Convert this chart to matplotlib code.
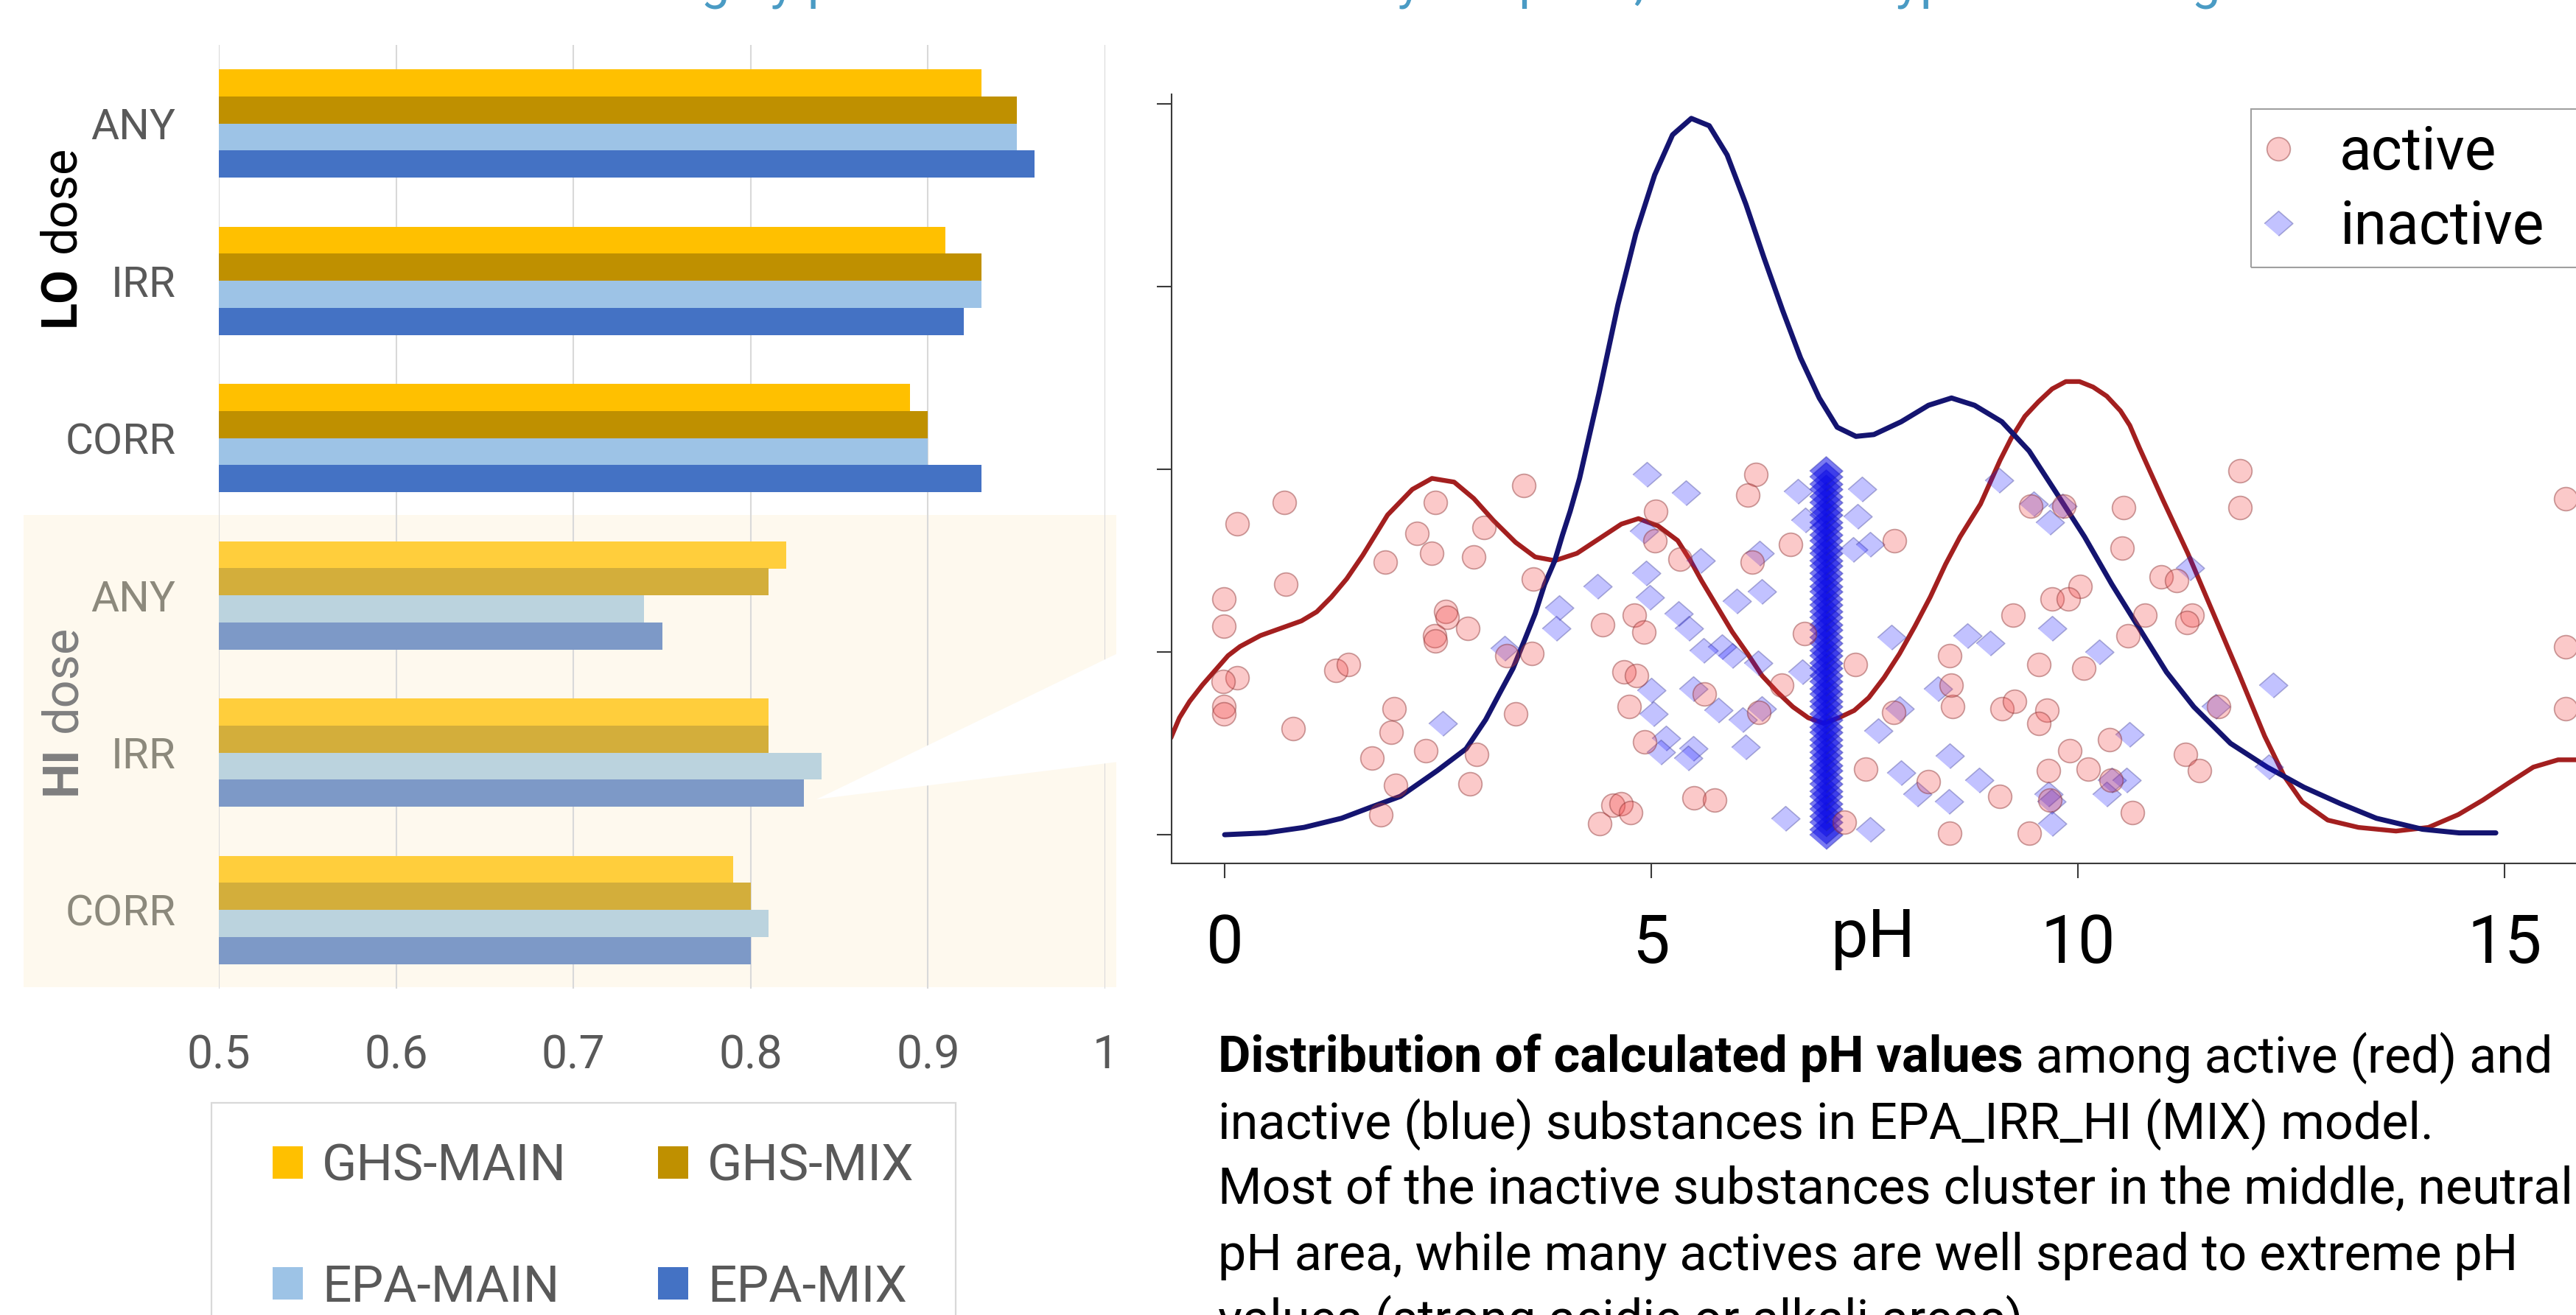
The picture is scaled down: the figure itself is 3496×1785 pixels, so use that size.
import matplotlib
matplotlib.use("Agg")
import matplotlib.pyplot as plt
from matplotlib import font_manager
from matplotlib.patches import Rectangle, Polygon

W, H, DPI = 3496, 1785, 100

available = {f.name for f in font_manager.fontManager.ttflist}
FONT = next(n for n in ["Liberation Sans Narrow", "Roboto", "DejaVu Sans"] if n in available)
plt.rcParams["font.family"] = [FONT, "DejaVu Sans"]

# ---------------- data: bar chart ----------------
categories = ["ANY", "IRR", "CORR", "ANY", "IRR", "CORR"]
dose_groups = ["LO", "LO", "LO", "HI", "HI", "HI"]
series_names = ["GHS-MAIN", "GHS-MIX", "EPA-MAIN", "EPA-MIX"]
ghs_main = [0.93, 0.91, 0.89, 0.82, 0.81, 0.79]
ghs_mix = [0.95, 0.93, 0.90, 0.81, 0.81, 0.80]
epa_main = [0.95, 0.93, 0.90, 0.74, 0.84, 0.81]
epa_mix = [0.96, 0.92, 0.93, 0.75, 0.83, 0.80]
bar_xticks = [0.5, 0.6, 0.7, 0.8, 0.9, 1.0]
bar_xticklabels = ["0.5", "0.6", "0.7", "0.8", "0.9", "1"]

# ---------------- data: pH scatter ----------------
active_ph = [0.70, 0.15, 2.47, 2.25, 2.43, 2.92, 1.88, 3.04, 3.51, 3.62, 0.72, -0.01, -0.01, 2.59, 2.61,
             2.85, 2.46, 2.47, 3.60, 3.31, 1.30, 1.45, 0.15, -0.02, -0.01, -0.01, 0.80, 1.99, 1.95, 2.36,
             1.73, 2.95, 3.41, 2.00, 2.88, 1.83,
             6.23, 6.13, 5.05, 5.04, 6.63, 6.18, 5.34, 7.85, 4.80, 4.43, 4.91, 6.80, 4.68, 4.83, 7.39,
             6.53, 5.62, 4.74, 6.26, 7.84, 8.50, 8.53, 8.52, 4.92, 7.51, 8.25, 5.50, 5.74, 4.55, 4.65,
             4.76, 4.40, 7.26, 8.50,
             11.90, 11.90, 10.54, 10.52, 9.84, 9.45, 10.98, 11.16, 10.03, 9.70, 9.89, 9.24, 10.79, 10.59,
             11.34, 11.28, 9.54, 10.07, 9.11, 9.26, 9.64, 9.54, 11.65, 10.37, 9.91, 10.12, 9.66, 10.39,
             11.26, 11.43, 9.09, 9.67, 10.64, 9.43,
             15.72, 15.72, 15.72]
active_y = [1.82, 1.70, 1.82, 1.65, 1.54, 1.52, 1.49, 1.68, 1.91, 1.40, 1.37, 1.29, 1.14, 1.22, 1.19,
            1.13, 1.09, 1.06, 0.99, 0.98, 0.90, 0.93, 0.86, 0.84, 0.70, 0.66, 0.58, 0.69, 0.56, 0.46,
            0.42, 0.44, 0.66, 0.27, 0.28, 0.11,
            1.97, 1.86, 1.77, 1.61, 1.59, 1.49, 1.51, 1.61, 1.20, 1.15, 1.11, 1.10, 0.89, 0.87, 0.93,
            0.82, 0.77, 0.70, 0.67, 0.67, 0.98, 0.70, 0.82, 0.51, 0.36, 0.29, 0.20, 0.19, 0.16, 0.17,
            0.12, 0.06, 0.07, 0.01,
            1.99, 1.79, 1.79, 1.57, 1.80, 1.80, 1.41, 1.39, 1.36, 1.29, 1.29, 1.20, 1.20, 1.09,
            1.20, 1.16, 0.93, 0.91, 0.69, 0.73, 0.68, 0.61, 0.70, 0.52, 0.46, 0.36, 0.35, 0.30,
            0.44, 0.35, 0.21, 0.19, 0.12, 0.01,
            1.84, 1.03, 0.69]

inactive_ph = [2.56, 3.28, 3.92, 3.89,
               4.95, 5.41, 6.72, 7.47, 7.42, 6.81, 4.91, 7.37, 7.57, 6.27, 5.58, 4.94, 4.37, 4.98, 6.30,
               6.00, 5.32, 5.44, 5.61, 5.83, 5.95, 6.25, 6.77, 7.82, 5.00, 5.49, 5.79, 5.03, 6.07, 6.30,
               7.91, 7.66, 5.17, 5.11, 5.49, 5.43, 6.11, 8.36, 8.50, 7.93, 8.12, 8.49, 6.57, 7.57,
               9.08, 9.67, 9.48, 9.82, 11.31, 9.70, 8.71, 8.97, 10.25, 12.29, 10.61, 11.62, 8.84, 9.66,
               9.69, 9.70, 10.34, 10.57, 10.40, 12.24]
inactive_y = [0.61, 1.02, 1.24, 1.13,
              1.97, 1.87, 1.88, 1.89, 1.74, 1.72, 1.66, 1.56, 1.59, 1.54, 1.50, 1.43, 1.36, 1.30, 1.33,
              1.28, 1.21, 1.13, 1.01, 1.03, 0.98, 0.94, 0.89, 1.08, 0.79, 0.80, 0.68, 0.66, 0.63, 0.69,
              0.69, 0.57, 0.53, 0.45, 0.47, 0.42, 0.48, 0.80, 0.43, 0.34, 0.22, 0.18, 0.09, 0.03,
              1.94, 1.71, 1.81, 1.80, 1.46, 1.13, 1.09, 1.05, 1.00, 0.82, 0.55, 0.70, 0.30, 0.22,
              0.18, 0.06, 0.22, 0.30, 0.30, 0.37]

# dense cluster of inactive substances at neutral pH
neutral_y = [0.00, 0.03, 0.07, 0.10, 0.14, 0.17, 0.21, 0.24, 0.28, 0.31, 0.35, 0.38, 0.42, 0.45, 0.49,
             0.52, 0.56, 0.59, 0.63, 0.66, 0.70, 0.73, 0.77, 0.80, 0.84, 0.87, 0.91, 0.94, 0.98, 1.01,
             1.05, 1.08, 1.12, 1.15, 1.19, 1.22, 1.26, 1.29, 1.33, 1.36, 1.40, 1.43, 1.47, 1.50, 1.54,
             1.57, 1.61, 1.64, 1.68, 1.71, 1.75, 1.78, 1.82, 1.85, 1.89, 1.92, 1.96, 1.99]
neutral_ph = [7.05] * len(neutral_y)

# density curves
dens_active_ph = [-0.63, -0.53, -0.41, -0.26, -0.11, 0.04, 0.18, 0.42, 0.66, 0.90, 1.08, 1.25, 1.43,
                  1.62, 1.91, 2.20, 2.43, 2.69, 2.92, 3.15, 3.41, 3.64, 3.87, 4.13, 4.39, 4.65, 4.85,
                  5.08, 5.31, 5.46, 5.59, 5.77, 5.95, 6.13, 6.30, 6.48, 6.66, 6.84, 7.02, 7.20, 7.38,
                  7.55, 7.73, 7.91, 8.09, 8.27, 8.45, 8.62, 8.86, 9.09, 9.22, 9.38, 9.54, 9.70, 9.86,
                  10.02, 10.18, 10.34, 10.50, 10.61, 10.72, 11.00, 11.29, 11.59, 11.89, 12.19, 12.42,
                  12.63, 12.93, 13.29, 13.73, 14.11, 14.46, 14.75, 15.04, 15.34, 15.63, 15.86]
dens_active = [0.53, 0.64, 0.73, 0.82, 0.90, 0.98, 1.03, 1.09, 1.13, 1.17, 1.22, 1.30, 1.40,
               1.53, 1.75, 1.89, 1.95, 1.93, 1.84, 1.72, 1.60, 1.52, 1.50, 1.54, 1.62, 1.70, 1.73,
               1.69, 1.61, 1.50, 1.39, 1.25, 1.11, 0.99, 0.87, 0.78, 0.70, 0.64, 0.61, 0.64, 0.68,
               0.75, 0.86, 0.99, 1.14, 1.30, 1.48, 1.63, 1.81, 2.05, 2.17, 2.29, 2.37, 2.44, 2.48,
               2.48, 2.45, 2.40, 2.32, 2.24, 2.12, 1.83, 1.54, 1.21, 0.88, 0.54, 0.32,
               0.18, 0.08, 0.04, 0.02, 0.04, 0.11, 0.19, 0.28, 0.37, 0.41, 0.41]
dens_inactive_ph = [0.00, 0.48, 0.93, 1.37, 1.71, 2.06, 2.49, 2.83, 3.06, 3.23, 3.38, 3.52, 3.64, 3.75,
                    3.87, 3.96, 4.05, 4.16, 4.39, 4.61, 4.82, 5.04, 5.25, 5.47, 5.68, 5.89, 6.11, 6.32,
                    6.54, 6.75, 6.97, 7.18, 7.40, 7.61, 7.93, 8.25, 8.52, 8.79, 9.11, 9.43, 9.75, 10.08,
                    10.40, 10.72, 11.04, 11.36, 11.79, 12.22, 12.65, 13.08, 13.50, 14.04, 14.47, 14.90]
dens_inactive = [0.00, 0.01, 0.04, 0.09, 0.15, 0.21, 0.35, 0.47, 0.63, 0.78, 0.91, 1.07, 1.21, 1.37,
                 1.50, 1.64, 1.77, 1.95, 2.42, 2.90, 3.29, 3.61, 3.83, 3.92, 3.88, 3.72, 3.45, 3.16,
                 2.87, 2.61, 2.39, 2.23, 2.18, 2.19, 2.26, 2.35, 2.39, 2.35, 2.26, 2.10, 1.87, 1.63,
                 1.37, 1.13, 0.89, 0.70, 0.50, 0.37, 0.26, 0.17, 0.09, 0.03, 0.01, 0.01]
ph_ticks = [0, 5, 10, 15]
ph_ticklabels = ["0", "5", "10", "15"]

caption_bold = "Distribution of calculated pH values"
caption_rest = " among active (red) and"
caption_lines = ["inactive (blue) substances in EPA_IRR_HI (MIX) model.",
                 "Most of the inactive substances cluster in the middle, neutral",
                 "pH area, while many actives are well spread to extreme pH",
                 "values (strong acidic or alkali areas)."]
top_title = "Highly predictive models for every endpoint, dose and type of training set"

# ---------------- styling ----------------
lo_colors = ["#FFC000", "#BF9000", "#9DC3E6", "#4472C4"]
hi_colors = ["#FFCE3C", "#D3AE3B", "#BBD3DE", "#7D99C7"]
LO_TXT = "#595959"
HI_TXT = "#8C897C"


def fx(x):
    return x / W


def fy(y):
    return 1 - y / H


def pt2px(p):
    return p * DPI / 72.0


fig = plt.figure(figsize=(W / DPI, H / DPI), dpi=DPI)
fig.patch.set_facecolor("white")
renderer = fig.canvas.get_renderer()


def measure(s, size, weight="normal"):
    t = fig.text(0, 0, s, fontsize=size, fontweight=weight)
    bb = t.get_window_extent(renderer)
    t.remove()
    return bb.width, bb.height


# HI dose background
fig.patches.append(Rectangle((fx(32), fy(1340)), (1515 - 32) / W, (1340 - 699) / H,
                             transform=fig.transFigure, facecolor="#FEF9EE",
                             edgecolor="none", zorder=-1))

# ---------------- bar chart ----------------
axb = fig.add_axes([fx(297), fy(1342), (1500 - 297) / W, (1342 - 61) / H])
axb.set_facecolor("none")
bh = 36.75 / 213.5
offsets = [-1.5, -0.5, 0.5, 1.5]
series_values = [ghs_main, ghs_mix, epa_main, epa_mix]
containers = []
for j, vals in enumerate(series_values):
    cols = [lo_colors[j] if d == "LO" else hi_colors[j] for d in dose_groups]
    pos = [i + offsets[j] * bh for i in range(len(vals))]
    containers.append(axb.barh(pos, vals, height=bh, color=cols, zorder=2))
axb.set_xlim(0.5, 1.0)
axb.set_ylim(len(categories) - 0.5, -0.5)
axb.set_xticks(bar_xticks)
axb.set_xticklabels(bar_xticklabels)
axb.set_yticks(range(len(categories)))
axb.set_yticklabels(categories)
for lbl, d in zip(axb.get_yticklabels(), dose_groups):
    lbl.set_color(LO_TXT if d == "LO" else HI_TXT)
axb.grid(axis="x", color="#D9D9D9", lw=1.5, zorder=0)
axb.set_axisbelow(True)
for s in axb.spines.values():
    s.set_visible(False)
axb.tick_params(axis="x", length=0, pad=44, labelsize=45, labelcolor=LO_TXT)
axb.tick_params(axis="y", length=0, pad=42, labelsize=42)

# callout wedge
fig.patches.append(Polygon([(fx(1108), fy(1085)), (fx(1535), fy(878)), (fx(1535), fy(1032))],
                           closed=True, transform=fig.transFigure, facecolor="white",
                           edgecolor="none", zorder=3))


# dose labels (bold level + regular "dose"), rotated
def dose_label(xc, y_bottom, level, color):
    t1 = fig.text(fx(xc), fy(y_bottom), level, rotation=90, ha="center", va="bottom",
                  fontsize=48, fontweight="bold", color=color)
    bb = t1.get_window_extent(renderer)
    fig.text(fx(xc), (bb.y1 + 18) / H, "dose", rotation=90, ha="center", va="bottom",
             fontsize=48, color=color)


dose_label(83, 443, "LO", "black")
dose_label(85, 1079, "HI", "#7F7F7F")

# bar legend
LEG_FS = 50
leg_px = pt2px(LEG_FS)
w_col1 = max(measure(series_names[0], LEG_FS)[0], measure(series_names[2], LEG_FS)[0])
_, h_row = measure("GHS-MAIN", LEG_FS)
pad_px = 26
col_sp = (893 - 370 - 41 - pad_px - w_col1) / leg_px
order = [0, 2, 1, 3]
axb.legend([containers[k] for k in order], [series_names[k] for k in order], ncol=2,
           loc="upper left", bbox_to_anchor=(fx(370), fy(1602 - 0.78 * h_row)),
           bbox_transform=fig.transFigure,
           frameon=False, borderpad=0, borderaxespad=0, handlelength=41 / leg_px,
           handleheight=41 / leg_px, handletextpad=pad_px / leg_px, columnspacing=col_sp,
           labelspacing=(164 - h_row) / leg_px, fontsize=LEG_FS, labelcolor=LO_TXT)
fig.patches.append(Rectangle((fx(287), fy(1800)), (1297 - 287) / W, (1800 - 1497) / H,
                             transform=fig.transFigure, fill=False, edgecolor="#D9D9D9",
                             lw=1.6, zorder=3))

# ---------------- pH scatter ----------------
axs = fig.add_axes([fx(1590), fy(1172), (W - 1590) / W, (1172 - 128) / H])
axs.set_facecolor("none")
axs.set_xlim(-0.622, 15.84)
axs.set_ylim(-0.157, 4.052)
axs.plot(dens_active_ph, dens_active, color="#A31F1F", lw=4.6, zorder=2, solid_joinstyle="round",
         solid_capstyle="round")
axs.plot(dens_inactive_ph, dens_inactive, color="#141470", lw=5.0, zorder=2, solid_joinstyle="round",
         solid_capstyle="round")
diamond = [(-0.575, 0.0), (0.0, 0.5), (0.575, 0.0), (0.0, -0.5)]
h_inact = axs.scatter(inactive_ph, inactive_y, s=780, marker=diamond,
                      facecolor=(0.05, 0.05, 1.0, 0.25), edgecolor=(0.2, 0.2, 0.55, 0.35),
                      linewidths=1.2, zorder=3)
axs.scatter(neutral_ph, neutral_y, s=1050, marker=diamond,
            facecolor=(0.05, 0.05, 0.9, 0.55), edgecolor=(0.15, 0.15, 0.65, 0.4),
            linewidths=1.2, zorder=3)
h_act = axs.scatter(active_ph, active_y, s=520, marker="o",
                    facecolor=(0.95, 0.25, 0.25, 0.28), edgecolor=(0.55, 0.2, 0.2, 0.45),
                    linewidths=1.3, zorder=3)
axs.spines["top"].set_visible(False)
axs.spines["right"].set_visible(False)
for k in ["left", "bottom"]:
    axs.spines[k].set_color("#3A3A3A")
    axs.spines[k].set_linewidth(1.5)
axs.set_xticks(ph_ticks)
axs.set_xticklabels(ph_ticklabels)
axs.set_yticks([0, 1, 2, 3, 4])
axs.set_yticklabels([])
axs.tick_params(axis="both", direction="out", length=14.4, width=1.5, color="#3A3A3A")
axs.tick_params(axis="x", labelsize=65, pad=34, labelcolor="black")
fig.text(fx(2542), fy(1299), "pH", ha="center", va="baseline", fontsize=65, color="black")

SL_FS = 58
sl_px = pt2px(SL_FS)
_, h_sl = measure("inactive", SL_FS)
axs.legend([h_act, h_inact], ["active", "inactive"], loc="upper left",
           bbox_to_anchor=(fx(3052), fy(230 - 0.78 * h_sl)), bbox_transform=fig.transFigure,
           frameon=False, borderpad=0, borderaxespad=0, handlelength=1.0,
           handletextpad=(3175 - 3052 - sl_px) / sl_px,
           labelspacing=(101 - h_sl) / sl_px, fontsize=SL_FS, scatterpoints=1, scatteryoffsets=[0.5])
fig.patches.append(Rectangle((fx(3055), fy(363)), (3520 - 3055) / W, (363 - 148) / H,
                             transform=fig.transFigure, fill=False, edgecolor="#A0A0A0",
                             lw=1.5, zorder=3))

# ---------------- caption ----------------
w_probe, _ = measure(caption_lines[1], 40)
cap_fs = 40 * 1839 / w_probe

tb = fig.text(fx(1653), fy(1455), caption_bold, fontsize=cap_fs, fontweight="bold",
              va="baseline", ha="left", color="black")
bb = tb.get_window_extent(renderer)
fig.text(bb.x1 / W, fy(1455), caption_rest, fontsize=cap_fs, va="baseline", ha="left", color="black")
for k, line in enumerate(caption_lines):
    fig.text(fx(1653), fy(1545 + 89 * k), line, fontsize=cap_fs, va="baseline", ha="left",
             color="black")

# title line cut off at the top edge: its baseline sits just above the picture
fig.text(fx(2006), fy(-2), top_title, ha="center", va="baseline", fontsize=50, color="#4A9BC4")

fig.savefig("out.png", dpi=DPI, facecolor="white")
